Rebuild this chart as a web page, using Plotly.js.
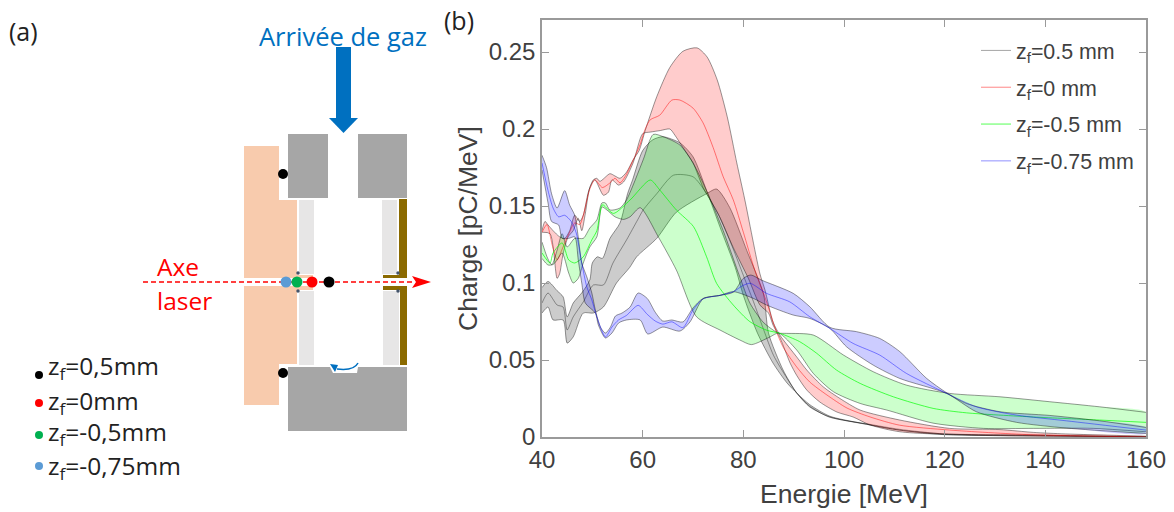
<!DOCTYPE html>
<html><head><meta charset="utf-8">
<script src="https://cdn.plot.ly/plotly-3.0.1.min.js"></script>
<style>html,body{margin:0;padding:0;background:#fff}</style></head>
<body><div id="chart" style="width:1174px;height:512px"></div>
<script>
// ---- Data: [energy MeV, charge pC/MeV] pairs ----
const grayUpper=[[40,.097],[41.2,.101],[43,.095],[44.2,.091],[45,.078],[46.2,.087],[48,.094],[49.5,.102],[50,.113],[51,.117],[52,.116],[53.5,.129],[55.5,.139],[57,.158],[58,.167],[60,.186],[62,.193],[64,.195],[67.4,.191],[70,.182],[72.7,.160],[75.4,.136],[78.4,.110],[80,.092],[82.8,.0675],[85.9,.048],[88.7,.035],[90.6,.0286],[93.2,.021],[97.2,.0135],[105,.008],[111,.0045],[120,.002],[140,.0012],[160,0]];
const grayMean=[[40,.087],[41.2,.0935],[43,.0857],[44.2,.0844],[45,.0695],[46.2,.078],[48.2,.0877],[50.2,.0987],[52.2,.0987],[54.1,.113],[56.8,.128],[59,.141],[60.1,.1474],[62.8,.158],[66.1,.170],[70,.169],[72.7,.158],[75.4,.142],[78,.122],[80,.105],[82,.088],[84,.07],[86,.053],[88.7,.038],[90.6,.0286],[93,.0205],[97,.013],[105,.0083],[111,.005],[120,.002],[140,.001],[160,0]];
const grayLower=[[40,.0805],[41.2,.0844],[42.2,.076],[44.2,.076],[45,.061],[46.2,.065],[48.2,.0805],[50.2,.0805],[52.2,.0844],[54.8,.1],[57.4,.11],[58.8,.117],[62.8,.129],[66.7,.146],[72.7,.158],[74.7,.161],[77.3,.149],[80.7,.121],[84,.093],[85,.0675],[87.9,.0435],[90.6,.0286],[93.2,.0195],[97.2,.013],[105.2,.0078],[111,.0045],[120,.0015],[140,.0008],[160,0]];

const redUpper=[[40,.134],[40.6,.14],[41.2,.1377],[42.2,.134],[43.5,.13],[44.5,.129],[45.5,.134],[46.5,.144],[47.5,.14],[48.2,.144],[49.2,.159],[50.2,.167],[50.9,.168],[51.5,.166],[53.5,.171],[54.5,.1695],[55.5,.168],[56.8,.172],[58.1,.18],[59.3,.186],[60.5,.199],[62.8,.221],[65.4,.240],[68,.2505],[70.8,.2527],[72.8,.2468],[74.8,.232],[76.8,.208],[78.7,.178],[80.3,.154],[83.3,.106],[84.3,.0955],[85.9,.0747],[87.3,.066],[90.6,.052],[92.6,.0435],[95.9,.0325],[99.2,.025],[103.2,.0175],[111.1,.011],[121,.0056],[131,.0048],[137.6,.003],[144,.002],[160,.0005]];
const redMean=[[40,.133],[41,.138],[42,.125],[43,.115],[44,.122],[45.2,.131],[46.5,.139],[47.5,.138],[48.2,.144],[49.5,.161],[50.5,.167],[52,.162],[53.5,.165],[54.5,.168],[55.5,.165],[56.5,.169],[58,.179],[59.5,.19],[60.5,.2],[61.5,.206],[63.4,.209],[65.8,.2188],[67.4,.2188],[70,.2136],[72,.204],[74,.188],[76,.169],[78,.154],[80,.133],[82.3,.108],[84.7,.087],[86.3,.0708],[87.9,.0584],[90.6,.0455],[93.2,.0357],[96.6,.0273],[100.6,.0188],[105.2,.013],[111,.0077],[121,.0045],[137,.0015],[160,0]];
const redLower=[[40,.133],[41.6,.132],[43,.103],[43.5,.106],[44.2,.119],[45.2,.13],[46.2,.134],[47.2,.142],[47.9,.134],[48.6,.145],[49.5,.162],[50.5,.167],[52.2,.157],[53.2,.159],[53.9,.167],[55.2,.1636],[56.2,.1656],[58.1,.178],[60,.197],[61.5,.198],[63.5,.199],[65.4,.20],[66.4,.196],[68,.188],[70,.178],[72,.162],[73.4,.154],[75,.145],[78,.123],[81,.103],[83.3,.0857],[85,.0805],[85.9,.0727],[87.3,.0643],[89.3,.048],[90.6,.04],[92.6,.0305],[95.2,.0227],[98.6,.0162],[101.8,.013],[105.2,.0078],[111.1,.0034],[125,.0012],[160,0]];

const greenUpper=[[40,.1266],[41,.117],[41.6,.113],[42,.112],[43,.1214],[44,.132],[45,.1234],[46.5,.129],[48.2,.129],[49.5,.1357],[50.9,.141],[51.9,.152],[52.6,.152],[53.5,.1474],[55.5,.1487],[56.8,.154],[60.1,.180],[62.1,.1965],[64.1,.195],[67.4,.1896],[70,.178],[72.7,.160],[76,.134],[79.3,.104],[81.3,.087],[83.9,.0747],[85.9,.0695],[87,.0675],[88.6,.0673],[93.9,.0662],[99.9,.0532],[105.8,.0424],[112.4,.0337],[121,.0283],[131,.0261],[140.9,.0229],[150.8,.0196],[160,.016]];
const greenMean=[[40,.1195],[41.6,.113],[42.2,.1195],[44,.126],[45.3,.115],[46.5,.113],[48.2,.117],[49.9,.128],[50.9,.134],[51.9,.1506],[52.2,.1506],[54.2,.1452],[57.5,.1539],[61.5,.1669],[63.4,.1604],[66.7,.1474],[70.1,.1366],[72.7,.117],[74.7,.0997],[78,.0857],[81.3,.0749],[84.6,.0694],[87.3,.0673],[91.2,.0619],[94.6,.0543],[98.5,.0435],[103.2,.0348],[109.8,.0261],[117.7,.0186],[124.3,.0157],[137.6,.013],[150.8,.011],[160,.0095]];
const greenLower=[[40,.116],[41.2,.1117],[42.2,.112],[43,.115],[44,.1195],[45.3,.1065],[46.2,.1],[47.2,.103],[48.2,.113],[49.5,.1234],[50.9,.13],[51.9,.1494],[52.9,.1474],[54.5,.143],[56.2,.1413],[57.5,.143],[59.5,.1489],[63.1,.130],[66.7,.1084],[70.7,.0781],[75.4,.0694],[79.3,.063],[81.6,.060],[85.3,.065],[87,.0675],[90.6,.0565],[93.9,.0413],[97.9,.0294],[103.2,.0218],[108.5,.0175],[117.7,.009],[127.7,.0056],[137.6,.0056],[149.5,.0056],[160,.0034]];

const blueUpper=[[40,.183],[40.9,.175],[41.9,.158],[43,.1487],[44.5,.16],[45.5,.1506],[46.5,.144],[47.2,.13],[47.9,.113],[48.9,.104],[49.9,.0935],[50.6,.0825],[51.6,.0714],[52.6,.0675],[53.6,.0714],[54.6,.0786],[55.9,.0805],[57.5,.0844],[59.1,.0935],[60.9,.09],[62.5,.081],[64,.0753],[65.8,.076],[68,.0747],[70,.0838],[72,.09],[75.4,.092],[78,.094],[80,.103],[81.5,.1052],[83.6,.1019],[89.9,.0933],[93.2,.0846],[97.2,.0712],[102.5,.0684],[107.1,.064],[111.1,.0554],[116.4,.0381],[120.4,.0287],[124.3,.0218],[131,.0164],[140.9,.014],[150.8,.0105],[160,.0062]];
const blueMean=[[40,.178],[41.2,.16],[42.2,.1487],[43.3,.143],[44.5,.144],[45.8,.14],[46.8,.1325],[47.9,.113],[48.9,.0975],[49.9,.089],[50.9,.078],[52.6,.065],[53.9,.0714],[55.2,.076],[56.8,.079],[59.1,.0855],[60.9,.0797],[62.5,.0753],[64,.0733],[65.8,.0748],[68,.071],[70,.0825],[72,.0897],[75.4,.092],[78,.0944],[80,.0985],[81.4,.0998],[84.6,.0933],[89.2,.0878],[93.2,.0781],[97.2,.0705],[101.8,.0608],[107.1,.0532],[112.4,.0413],[120.4,.0283],[126.3,.0196],[134.3,.0142],[144.2,.0105],[160,.0045]];
const blueLower=[[40,.1734],[41.2,.152],[41.9,.14],[43.3,.1377],[44,.129],[45.3,.129],[46.5,.13],[47.2,.115],[47.9,.1],[48.6,.087],[50.6,.0805],[51.2,.0727],[52.6,.0643],[53.9,.0675],[55.2,.074],[56.8,.076],[59.5,.076],[61,.0669],[64,.0714],[67.4,.0688],[69.4,.0747],[72,.0897],[75.4,.092],[78,.0944],[82,.09],[84.6,.0857],[89.9,.0792],[93.2,.077],[97.2,.0705],[100.5,.0586],[105.8,.0467],[111.1,.038],[120.4,.0283],[126.3,.0164],[134.3,.0095],[144.2,.0058],[160,.0023]];

const seriesNames=['z<sub>f</sub>=0.5 mm','z<sub>f</sub>=0 mm','z<sub>f</sub>=-0.5 mm','z<sub>f</sub>=-0.75 mm'];
const xTicks=[40,60,80,100,120,140,160];
const yTicks=[0,.05,.1,.15,.2,.25];

// ---- Schematic parts (a), drawn on an overlay axis in page pixels ----
const peach='#F8CBAD',gray='#A6A6A6',pale='#E7E6E6',brown='#8B6A00',blue='#0070C0';
const schemaRects=[
 [244,146,279,278,peach],[279,200,297,278,peach],[244,286,279,405,peach],[279,286,297,364,peach],
 [297,275,313,278,peach],[297,286,313,290,peach],
 [288,134,328,198,gray],[358,134,407,198,gray],[288,367,407,431,gray],
 [299,200,314,274,pale],[299,291,314,365,pale],[382,200,397,274,pale],[383,291,399,365,pale],
 [399,199,407,278,brown],[383,275,399,278,brown],[383,286,407,290,brown],[400,290,407,365,brown],
 [336,47,351,118,blue]];
const dotX=[286,297,312,329,283,283,39,39,39,39,298,298,398,398];
const dotY=[282,282,282,282,174,373,375,403,435,466,273,291,273,291];
const dotC=['#5B9BD5','#00B050','#FF0000','#000000','#000000','#000000','#000000','#FF0000','#00B050','#5B9BD5','#44546A','#44546A','#44546A','#44546A'];
const dotS=[11,11,11,11,10,10,8,8,8,8,3.5,3.5,3.5,3.5];

function xs(a){return a.map(p=>p[0]);} function ys(a){return a.map(p=>p[1]);}
function band(up,mid,lo,fill,edge,name,group){
  const sp={shape:'spline',smoothing:0.7};
  const poly=up.concat(lo.slice().reverse());
  return [
   {x:xs(poly),y:ys(poly),mode:'lines',fill:'toself',fillcolor:fill,line:{width:0,...sp},showlegend:false,hoverinfo:'skip',legendgroup:group},
   {x:xs(up),y:ys(up),mode:'lines',line:{color:'rgba(0,0,0,.5)',width:0.8,...sp},showlegend:false,legendgroup:group},
   {x:xs(lo),y:ys(lo),mode:'lines',line:{color:'rgba(0,0,0,.5)',width:0.8,...sp},showlegend:false,legendgroup:group},
   {x:xs(mid),y:ys(mid),mode:'lines',line:{color:edge,width:0.8,...sp},name:name,legendgroup:group}
  ];
}
const traces=[
 ...band(grayUpper,grayMean,grayLower,'rgba(0,0,0,.2)','rgba(0,0,0,.45)',seriesNames[0],'a'),
 ...band(redUpper,redMean,redLower,'rgba(255,0,0,.2)','rgba(255,0,0,.6)',seriesNames[1],'b'),
 ...band(greenUpper,greenMean,greenLower,'rgba(0,255,0,.2)','rgba(0,255,0,.85)',seriesNames[2],'c'),
 ...band(blueUpper,blueMean,blueLower,'rgba(0,0,255,.2)','rgba(0,0,255,.55)',seriesNames[3],'d'),
 {x:dotX,y:dotY,xaxis:'x2',yaxis:'y2',mode:'markers',marker:{color:dotC,size:dotS,opacity:1,line:{width:0}},showlegend:false,hoverinfo:'skip'}
];
const ref={xref:'x2',yref:'y2'};
const shapes=schemaRects.map(r=>({type:'rect',...ref,x0:r[0],y0:r[1],x1:r[2],y1:r[3],fillcolor:r[4],line:{width:0},layer:'below'}));
shapes.push({type:'path',...ref,path:'M329,118 L358,118 L343.5,133 Z',fillcolor:blue,line:{width:0},layer:'below'});
shapes.push({type:'path',...ref,path:'M330,367 L358,367 L357,373 L333,373 Z',fillcolor:'#fff',line:{width:0},layer:'below'});
shapes.push({type:'line',...ref,x0:143,y0:282,x1:412,y1:282,line:{color:'#FF0000',width:1.5,dash:'5px,3px'},layer:'below'});
shapes.push({type:'path',...ref,path:'M412,276 L431,282 L412,288 L416,282 Z',fillcolor:'#FF0000',line:{width:0},layer:'below'});
shapes.push({type:'path',...ref,path:'M358,363 Q354,371 337,369',line:{color:blue,width:1.5},layer:'below'});
shapes.push({type:'path',...ref,path:'M330,364 L338,365 L335,372 Z',fillcolor:blue,line:{width:0},layer:'below'});

const tf='"Open Sans","Noto Sans",sans-serif';
function note(x,y,text,size,color,anchor){return {xref:'x2',yref:'y2',x:x,y:y,text:text,showarrow:false,xanchor:anchor||'left',yanchor:'middle',font:{family:tf,size:size,color:color||'#222'}};}
const annotations=[
 note(7,31,'(a)',25),note(442,20,'(b)',25),
 note(257,36,'Arrivée de gaz',25.5,blue),
 note(155,266,'Axe',24.5,'#FF0000'),note(155,300,'laser',24.5,'#FF0000'),
 note(46,367,'z<sub>f</sub>=0,5mm',24.5),note(46,402,'z<sub>f</sub>=0mm',24.5),
 note(46,433,'z<sub>f</sub>=-0,5mm',24.5),note(46,467,'z<sub>f</sub>=-0,75mm',24.5)
];
const axisCol='#9a9a9a',txt='#404040',fam='"Liberation Sans",Arial,sans-serif';
const layout={
 width:1174,height:512,margin:{l:0,r:0,t:0,b:0},paper_bgcolor:'#fff',plot_bgcolor:'rgba(0,0,0,0)',
 font:{family:fam,color:txt},showlegend:true,
 xaxis:{domain:[542/1174,1146/1174],range:[40,160],tickvals:xTicks,ticks:'inside',ticklen:7,tickcolor:axisCol,showline:true,linecolor:axisCol,linewidth:1.5,mirror:'ticks',showgrid:false,zeroline:false,tickfont:{size:24,color:txt},title:{text:'Energie [MeV]',font:{size:26.5,color:txt},standoff:13}},
 yaxis:{domain:[75/512,492/512],range:[0,.2708],tickvals:yTicks,ticktext:yTicks.map(String),ticks:'inside',ticklen:7,tickcolor:axisCol,showline:true,linecolor:axisCol,linewidth:1.5,mirror:'ticks',showgrid:false,zeroline:false,tickfont:{size:24,color:txt},title:{text:'Charge [pC/MeV]',font:{size:26.5,color:txt},standoff:3}},
 xaxis2:{domain:[0,1],range:[0,1174],visible:false,fixedrange:true,anchor:'y2'},
 yaxis2:{domain:[0,1],range:[512,0],visible:false,fixedrange:true,anchor:'x2'},
 legend:{x:976/1174,y:(512-30)/512,xanchor:'left',yanchor:'top',bgcolor:'rgba(0,0,0,0)',borderwidth:0,tracegroupgap:6,font:{size:21.4,color:txt},itemwidth:30},
 shapes:shapes,annotations:annotations
};
Plotly.newPlot('chart',traces,layout,{displayModeBar:false,responsive:false});
</script></body></html>
